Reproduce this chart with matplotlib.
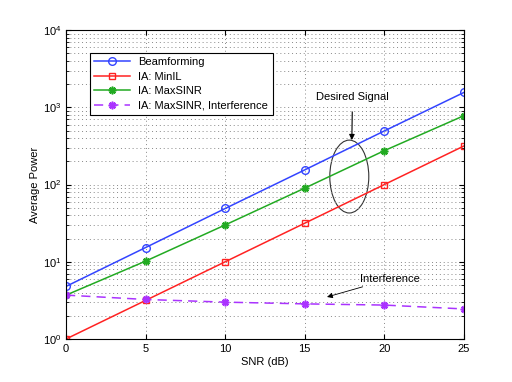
import matplotlib
matplotlib.use('Agg')
import matplotlib.pyplot as plt
from matplotlib.patches import Ellipse
import numpy as np

plt.rcParams['font.family'] = ['Liberation Sans', 'DejaVu Sans']

snr = [0, 5, 10, 15, 20, 25]
beamforming = [4.8, 15.3, 49, 155, 495, 1560]
ia_minil = [1.0, 3.16, 10, 31.6, 100, 316]
ia_maxsinr = [3.7, 10.2, 30, 90, 275, 780]
ia_interf = [3.7, 3.25, 3.0, 2.85, 2.75, 2.45]

fig = plt.figure(figsize=(5.12, 3.82), dpi=100)
ax = fig.add_axes([0.129, 0.1126, 0.777, 0.8084])

star = (8, 2, 0)
ax.semilogy(snr, beamforming, '-o', color='#3344ff', mfc='none', ms=5.5, lw=1.1, label='Beamforming')
ax.semilogy(snr, ia_minil, '-s', color='#ff2222', mfc='none', ms=5, lw=1.1, label='IA: MinIL')
ax.semilogy(snr, ia_maxsinr, '-', marker=star, color='#22aa22', ms=5.5, mew=1.2, lw=1.1,
            label='IA: MaxSINR')
ax.semilogy(snr, ia_interf, '--', marker=star, color='#aa33ff', ms=5.5, mew=1.2, lw=1.1,
            dashes=(6, 4), label='IA: MaxSINR, Interference')

ax.set_xlim(0, 25)
ax.set_ylim(1, 1e4)
ax.set_xticks(snr)
grid_style = dict(linestyle=(0, (1, 3)), color='#888888', lw=0.7)
ax.grid(True, which='major', **grid_style)
ax.grid(True, which='minor', axis='y', **grid_style)
ax.tick_params(which='both', direction='in', top=True, right=True, labelsize=8)
ax.set_xlabel('SNR (dB)', fontsize=8, labelpad=2)
ax.set_ylabel('Average Power', fontsize=8, labelpad=2)

leg = ax.legend(loc='upper left', bbox_to_anchor=(0.045, 0.945), fontsize=8, fancybox=False,
                edgecolor='black', framealpha=1, handlelength=3.2, borderpad=0.4,
                labelspacing=0.4)
leg.get_frame().set_linewidth(0.8)

ell = Ellipse((0.712, 0.526), 0.098, 0.236, transform=ax.transAxes, fill=False,
              edgecolor='#333333', lw=0.8)
ax.add_patch(ell)

ax.annotate('Desired Signal', xy=(17.96, 377), xytext=(18.0, 1355), fontsize=8,
            ha='center', va='center',
            arrowprops=dict(arrowstyle='-|>', color='black', lw=0.8, shrinkA=5, shrinkB=0))
ax.annotate('Interference', xy=(16.4, 3.5), xytext=(18.47, 5.98), fontsize=8,
            ha='left', va='center',
            arrowprops=dict(arrowstyle='-|>', color='black', lw=0.6, shrinkA=0, shrinkB=0))

fig.savefig('out.png', dpi=100)
